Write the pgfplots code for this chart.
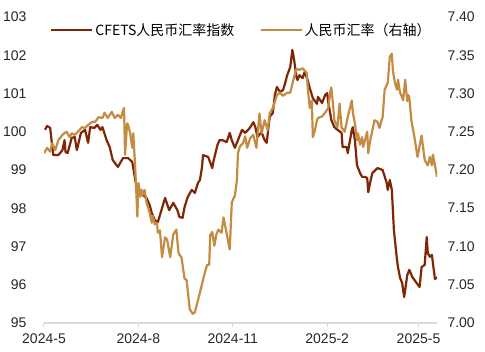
\documentclass[border=0pt]{standalone}
\usepackage{pgfplots}
\pgfplotsset{compat=1.18}
\usepackage{fontspec}
\setmainfont{Liberation Sans}
\newfontfamily\cjk{Noto Sans CJK SC}
\definecolor{cfets}{RGB}{128,38,5}
\definecolor{usdcny}{RGB}{196,140,66}
\definecolor{axisgray}{RGB}{217,217,217}
\begin{document}
\begin{tikzpicture}
\useasboundingbox (-44pt,-29pt) rectangle (441pt,323pt);
\pgfplotsset{
  common/.style={
    scale only axis, width=393pt, height=306pt,
    at={(0pt,0pt)}, anchor=south west,
    xmin=0, xmax=383,
    /pgf/number format/assume math mode=true,
    tick label style={font=\fontsize{14}{16}\selectfont, text=black!85},
  }
}
\begin{axis}[common,
  ymin=95, ymax=103, ytick={95,96,...,103},
  axis y line*=left, axis x line*=bottom,
  y axis line style={draw=none},
  x axis line style={draw=axisgray, line width=1.2pt},
  xtick={0,92,184,276,365},
  xticklabels={2024-5,2024-8,2024-11,2025-2,2025-5},
  xtick style={draw=axisgray, line width=1pt},
  major tick length=4pt, tick align=outside,
  ytick style={draw=none},
  yticklabel style={xshift=-10pt},
  xticklabel style={yshift=-3pt},
  legend style={draw=none, fill=none, at={(6pt,302pt)}, anchor=north west,
    font=\cjk\fontsize{14}{16}\selectfont, legend columns=2,
    /tikz/every even column/.append style={column sep=23pt},
    inner sep=0pt},
  legend image code/.code={\draw[#1] (0pt,0pt) -- (41pt,0pt);},
]
\addplot[color=cfets, line width=2.2pt, line join=round] coordinates {
(1,100.05)(3,100.15)(6,100.10)(9,99.39)(14,99.39)(18,99.52)(20,99.78)(21,99.47)(23,99.44)(27,99.84)(30,99.86)(32,99.52)(36,99.97)(40,100.05)(43,99.71)(45,100.12)(49,100.10)(52,100.18)(55,100.05)(57,100.12)(61,99.78)(64,99.60)(67,99.26)(72,99.08)(77,99.31)(82,99.31)(86,99.21)(89,98.74)(91,98.48)(94,98.48)(96,98.35)(100,98.27)(103,98.08)(105,97.88)(108,97.69)(111,97.64)(115,98.00)(118,98.27)(122,97.95)(126,98.14)(130,97.95)(132,97.77)(135,97.75)(137,98.03)(140,98.29)(144,98.48)(147,98.40)(150,98.66)(152,98.74)(154,99.08)(155,99.39)(160,99.34)(164,99.05)(165,99.21)(169,99.65)(171,99.78)(174,99.78)(178,99.73)(181,99.97)(183,99.78)(186,99.58)(189,99.78)(193,100.05)(196,99.97)(199,100.05)(201,100.12)(204,100.25)(206,100.12)(208,99.86)(212,99.99)(215,99.78)(217,99.71)(220,100.39)(223,100.49)(225,100.96)(227,101.17)(230,101.04)(233,101.09)(235,101.27)(237,101.48)(240,101.69)(242,102.14)(243,102.01)(244,101.83)(246,101.43)(247,101.35)(249,101.48)(252,101.40)(254,101.56)(257,101.35)(259,101.14)(262,100.88)(266,100.73)(267,100.91)(271,100.75)(274,100.96)(276,101.01)(277,100.78)(280,100.31)(283,100.12)(286,100.05)(290,99.97)(291,99.60)(295,99.60)(296,99.44)(300,100.05)(301,100.12)(303,99.78)(305,99.13)(308,98.92)(310,98.82)(313,98.82)(315,98.79)(316,98.42)(318,98.69)(320,98.92)(325,99.05)(330,99.00)(334,98.66)(335,98.48)(337,98.74)(339,98.48)(340,97.95)(341,97.43)(344,96.65)(345,96.46)(347,96.18)(349,96.05)(351,95.68)(354,96.25)(356,96.39)(359,96.20)(363,96.05)(366,95.94)(368,96.46)(371,96.52)(373,97.25)(374,96.83)(376,96.73)(378,96.78)(381,96.15)(383,96.20)
};
\addlegendentry{CFETS人民币汇率指数}
\addlegendimage{color=usdcny, line width=2.2pt}
\addlegendentry{人民币汇率（右轴）}
\end{axis}
\begin{axis}[common,
  ymin=7.00, ymax=7.40, ytick={7.00,7.05,...,7.40},
  axis y line*=right, axis x line=none,
  y axis line style={draw=none},
  ytick style={draw=none},
  yticklabel style={xshift=7pt, /pgf/number format/.cd, fixed, fixed zerofill, precision=2},
  xtick=\empty,
]
\addplot[color=usdcny, line width=2.2pt, line join=round] coordinates {
(0,7.222)(3,7.229)(6,7.224)(8,7.235)(11,7.226)(14,7.239)(18,7.246)(20,7.248)(22,7.250)(25,7.243)(27,7.248)(30,7.246)(33,7.250)(37,7.256)(40,7.255)(43,7.259)(47,7.263)(50,7.263)(53,7.269)(57,7.268)(59,7.275)(62,7.268)(66,7.276)(69,7.268)(72,7.272)(75,7.268)(77,7.278)(78,7.281)(79,7.220)(81,7.261)(82,7.259)(84,7.248)(86,7.229)(87,7.248)(89,7.200)(91,7.139)(92,7.183)(94,7.165)(95,7.174)(96,7.167)(98,7.174)(100,7.157)(103,7.144)(105,7.131)(106,7.140)(108,7.129)(110,7.131)(111,7.118)(113,7.121)(115,7.086)(118,7.112)(120,7.109)(123,7.086)(126,7.116)(129,7.122)(131,7.093)(132,7.089)(134,7.086)(136,7.067)(137,7.058)(139,7.056)(142,7.018)(145,7.012)(147,7.014)(152,7.040)(157,7.067)(159,7.076)(161,7.076)(162,7.115)(164,7.119)(166,7.101)(168,7.116)(170,7.122)(173,7.118)(175,7.138)(178,7.117)(181,7.096)(183,7.157)(184,7.161)(186,7.166)(188,7.187)(189,7.222)(191,7.231)(194,7.235)(196,7.244)(198,7.229)(201,7.242)(204,7.246)(207,7.229)(210,7.274)(212,7.248)(215,7.265)(218,7.252)(220,7.274)(223,7.281)(227,7.298)(230,7.301)(233,7.297)(237,7.301)(240,7.301)(243,7.318)(246,7.332)(249,7.331)(252,7.333)(256,7.327)(257,7.308)(259,7.281)(261,7.291)(262,7.243)(264,7.252)(266,7.265)(267,7.268)(271,7.270)(274,7.275)(277,7.281)(279,7.302)(280,7.308)(281,7.295)(283,7.265)(286,7.256)(288,7.287)(290,7.256)(293,7.250)(296,7.269)(300,7.291)(301,7.275)(303,7.261)(305,7.239)(306,7.248)(308,7.233)(310,7.243)(311,7.230)(315,7.250)(316,7.222)(318,7.239)(320,7.252)(322,7.265)(325,7.263)(327,7.255)(329,7.265)(330,7.269)(332,7.305)(335,7.314)(337,7.348)(339,7.352)(340,7.330)(342,7.314)(344,7.305)(345,7.318)(347,7.301)(349,7.295)(350,7.291)(352,7.318)(354,7.290)(355,7.298)(356,7.295)(358,7.265)(361,7.243)(364,7.217)(368,7.245)(371,7.213)(374,7.206)(376,7.217)(378,7.206)(379,7.220)(381,7.206)(383,7.191)
};
\end{axis}
\end{tikzpicture}
\end{document}
